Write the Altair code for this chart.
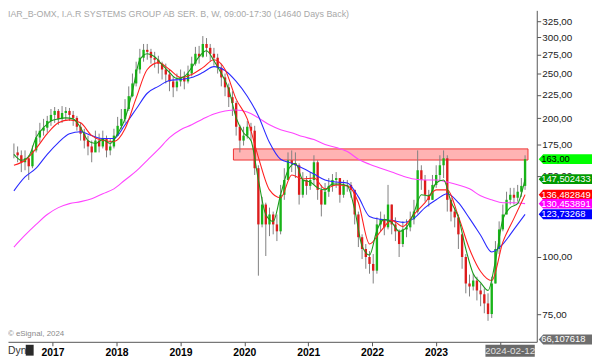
import altair as alt
import pandas as pd

TITLE = "IAR_B-OMX, I.A.R SYSTEMS GROUP AB SER. B, W, 09:00-17:30 (14640 Days Back)"

# candle grid (decimal years, one candle every ~3 weeks)
T0 = 2016.3944
STEP = 0.05797

close = [168.6,166.2,160.5,163.7,157.3,170.3,181.6,188.0,190.8,197.4,203.4,207.5,199.4,205.4,207.5,203.4,200.4,191.7,185.2,178.9,
         173.7,168.6,178.9,173.7,180.7,170.3,173.7,183.4,192.6,199.4,209.5,223.4,238.1,255.3,270.8,281.7,278.9,270.8,268.1,262.9,
         255.3,249.0,240.5,233.5,240.5,245.4,240.5,250.2,262.9,276.2,272.2,290.1,284.5,276.2,270.8,257.7,245.4,233.5,222.3,215.8,
         191.7,178.9,183.4,191.7,188.0,155.8,117.6,129.9,117.6,123.6,117.6,113.6,136.4,146.9,162.1,159.7,158.1,136.4,146.9,142.6,
         146.9,160.5,139.8,129.9,138.5,142.6,146.9,148.3,136.4,142.6,143.3,139.8,123.6,110.3,104.0,99.9,96.5,93.3,117.6,120.6,
         115.9,129.9,117.6,113.6,106.6,114.7,115.9,120.6,125.4,154.2,146.9,136.4,133.0,143.3,150.6,158.1,163.7,133.0,125.4,121.8,
         111.9,99.9,87.5,86.2,88.8,84.5,82.9,79.2,75.1,87.5,104.0,114.7,123.6,133.0,136.4,134.4,138.5,142.6,163.0]
high = [176.3,173.7,170.3,170.3,166.2,174.5,188.0,195.5,199.4,202.4,209.5,211.6,209.5,212.6,211.6,210.6,207.5,202.4,195.5,189.8,
        183.4,178.9,188.0,185.2,188.0,183.4,180.7,189.8,201.4,209.5,220.1,234.6,250.2,265.5,283.1,290.1,290.1,283.1,278.9,273.5,
        265.5,262.9,255.3,246.6,250.2,255.3,252.7,260.3,272.2,285.9,287.3,301.8,298.8,290.1,284.5,276.2,262.9,250.2,238.1,229.0,
        217.9,193.6,191.7,197.4,195.5,192.6,158.1,135.0,131.1,127.9,125.4,123.6,143.3,155.8,168.6,170.3,168.6,159.7,152.8,149.8,
        152.8,166.2,162.1,143.3,144.7,148.3,151.3,152.8,148.3,146.9,146.9,145.4,139.8,125.4,111.9,106.6,102.9,101.4,121.8,125.4,
        123.6,143.3,129.9,121.8,114.7,119.4,120.6,125.4,133.0,170.3,158.1,150.6,139.8,150.6,158.1,166.2,170.3,166.2,134.4,127.9,
        123.6,111.9,101.4,91.5,91.9,90.5,87.5,85.4,83.3,90.5,108.2,119.4,129.9,138.5,141.2,141.2,143.3,148.3,166.2]
low = [163.7,160.5,152.8,154.2,146.9,155.8,168.6,177.1,183.4,186.1,192.6,195.5,193.6,195.5,197.4,197.4,192.6,188.0,178.9,172.0,
       166.2,160.5,170.3,168.6,172.0,164.5,166.2,172.0,183.4,189.8,195.5,207.5,222.3,234.6,250.2,265.5,268.1,262.9,257.7,250.2,
       242.9,238.1,229.0,222.3,229.0,234.6,231.2,238.1,246.6,260.3,262.9,270.8,272.2,265.5,260.3,250.2,234.6,223.4,211.6,202.4,
       183.4,168.6,174.5,180.7,178.9,150.6,91.0,115.9,100.4,110.9,111.9,108.2,111.9,133.0,146.9,152.8,148.3,129.9,134.4,136.4,
       139.8,143.3,133.0,122.4,129.9,135.0,138.5,141.2,131.1,134.4,138.5,134.4,117.6,105.0,98.9,94.2,91.9,87.5,91.9,113.6,
       111.4,114.7,111.9,108.2,99.9,105.0,110.3,113.6,117.6,124.2,139.8,131.8,128.6,133.0,141.2,146.9,148.3,125.4,119.4,115.9,
       104.0,94.2,83.3,82.0,84.5,80.4,78.1,75.4,72.6,73.6,87.5,101.4,113.6,123.6,129.9,129.9,131.8,135.0,139.8]

# moving averages, sampled every 3rd candle (red, blue, magenta) and every 2nd (green)
ma_red = [158.1,162.1,172.0,185.2,195.5,198.4,195.5,183.4,178.9,178.0,189.8,221.2,255.3,264.2,255.3,245.4,249.0,257.7,268.1,255.3,
          220.1,199.4,164.5,139.8,134.4,150.6,147.6,148.3,140.5,143.3,142.6,131.1,106.6,113.6,120.0,116.4,123.6,131.1,139.8,139.8,
          122.4,104.0,92.9,88.8,107.6,121.2,136.5]
ma_blue = [139.1,149.1,155.8,167.0,177.1,185.2,187.0,183.4,180.7,180.7,193.6,209.5,226.7,234.6,241.7,242.9,245.4,251.5,259.0,254.0,
           240.5,223.4,202.4,177.1,162.9,159.7,155.8,151.3,146.9,145.4,144.7,135.0,122.4,120.6,120.0,118.8,121.2,127.9,133.0,137.1,
           131.1,121.2,111.4,102.4,106.6,114.7,123.7]
ma_magenta = [105.0,111.4,117.6,123.6,127.9,130.5,131.8,133.7,137.1,140.5,146.9,153.5,162.1,171.1,181.6,188.9,193.6,199.4,204.4,207.5,
              208.5,206.5,200.4,193.6,188.9,186.1,182.5,179.8,175.4,172.8,169.4,162.9,158.9,155.8,152.8,149.8,147.6,146.9,146.9,145.4,
              143.3,140.5,135.7,133.0,131.1,131.1,130.5]
ma_green = [167.0,162.1,165.4,181.6,190.8,197.4,199.4,200.4,199.4,190.8,178.9,176.3,179.8,176.3,185.2,199.4,229.0,268.1,276.2,272.2,
            261.6,251.5,244.1,246.6,257.7,272.2,280.3,266.8,250.2,231.2,200.4,186.1,178.9,146.9,123.6,119.4,136.4,154.2,159.7,146.9,
            145.4,141.2,139.8,144.0,144.0,142.6,126.7,105.5,100.9,114.2,120.6,118.8,113.6,115.9,124.8,136.4,135.7,144.7,146.9,131.8,
            121.8,104.0,91.9,87.9,84.5,98.0,120.6,127.9,130.5,147.5]

zone_low, zone_high = 162.3, 171.6
zone_start, zone_end = 2019.83, 2024.44

last_labels = ["163,00", "147,502433", "136,482849", "130,453891", "123,73268", "66,107618"]
last_values = [163.0, 147.502433, 136.482849, 130.453891, 123.73268, 66.107618]
last_fills = ["#00ff00", "#009a00", "#ff0000", "#ff00ff", "#0000ff", "#6e6e6e"]
last_text = ["#000000", "#ffffff", "#ffffff", "#ffffff", "#ffffff", "#ffffff"]

year_ticks = [2017, 2018, 2019, 2020, 2021, 2022, 2023, 2024]
price_ticks = [75, 100, 150, 175, 200, 225, 250, 275, 300, 325]

# ---------------------------------------------------------------
n = len(close)
tgrid = [T0 + STEP * i for i in range(n)]
candles = pd.DataFrame({"t": tgrid, "close": close, "high": high, "low": low})

def ma_frame(vals, every):
    return pd.DataFrame({"t": [tgrid[i * every] for i in range(len(vals))], "v": vals})

xs = alt.Scale(domain=[2016.379, 2024.5], nice=False, zero=False)
ys = alt.Scale(type="log", domain=[65.35, 343.2], nice=False)

X = alt.X("t:Q", scale=xs, axis=alt.Axis(
    values=year_ticks, labelExpr="datum.value == 2024 ? '' : toString(datum.value)",
    title=None, grid=False, labelFontWeight="bold", labelFontSize=10.5, labelColor="#000000",
    labelFont="Arial", tickColor="#555555", domainColor="#555555", tickSize=4, labelPadding=2,
    zindex=0))
Y = alt.Y("low:Q", scale=ys, axis=alt.Axis(
    orient="right", values=price_ticks, labelExpr="replace(format(datum.value, '.2f'), '.', ',')",
    title=None, grid=False, labelFontSize=10, labelColor="#222222", labelFont="Arial",
    tickColor="#555555", domainColor="#555555", tickSize=4, labelPadding=1, zindex=0))

base = alt.Chart(candles).transform_window(
    prev="lag(close)", frame=[None, None]
).transform_calculate(
    open="datum.prev == null ? datum.close : datum.prev"
)

zone = alt.Chart(pd.DataFrame({"a": [zone_start], "b": [zone_end], "lo": [zone_low], "hi": [zone_high]})).mark_rect(
    fill="#ffb3b3", stroke="#ee3333", strokeWidth=1
).encode(x=alt.X("a:Q", scale=xs), x2="b:Q", y=alt.Y("lo:Q", scale=ys), y2="hi:Q")

wicks = base.mark_rule(color="#808080", strokeWidth=1).encode(x=X, y=Y, y2="high:Q")
bodies = base.mark_bar(size=2.4).encode(
    x="t:Q", y=alt.Y("open:Q", scale=ys), y2="close:Q",
    color=alt.condition("datum.close >= datum.open", alt.value("#18b418"), alt.value("#dd1c1c")))

def ma_line(vals, every, color):
    return alt.Chart(ma_frame(vals, every)).mark_line(
        color=color, strokeWidth=1.1, interpolate="monotone"
    ).encode(x=alt.X("t:Q", scale=xs), y=alt.Y("v:Q", scale=ys))

l_mag = ma_line(ma_magenta, 3, "#ff44ff")
l_blue = ma_line(ma_blue, 3, "#2a2aff")
l_red = ma_line(ma_red, 3, "#ff2020")
l_green = ma_line(ma_green, 2, "#1a9a1a")

lab_df = pd.DataFrame({"v": last_values, "label": last_labels, "fill": last_fills, "tc": last_text})
ARROW = "M0,0 L0.9,-1 L11,-1 L11,1 L0.9,1 Z"
boxes = alt.Chart(lab_df).mark_point(shape=ARROW, size=100, filled=True, opacity=1, strokeWidth=0).encode(
    x=alt.value(538), y=alt.Y("v:Q", scale=ys), color=alt.Color("fill:N", scale=None))
box_txt = alt.Chart(lab_df).mark_text(align="left", baseline="middle", fontSize=9.5, font="Arial").encode(
    x=alt.value(540.5), y=alt.Y("v:Q", scale=ys), text="label:N", color=alt.Color("tc:N", scale=None))

one = pd.DataFrame({"a": [0]})
title = alt.Chart(one).mark_text(text=TITLE, align="left", baseline="top", fontSize=9, font="Arial",
                                 color="#a8a8a8").encode(x=alt.value(0), y=alt.value(0))
credit = alt.Chart(one).mark_text(text="© eSignal, 2024", align="left", baseline="middle", fontSize=8,
                                  font="Arial", color="#8a8a8a").encode(x=alt.value(0), y=alt.value(328))
dyn = alt.Chart(one).mark_text(text="Dyn", align="left", baseline="middle", fontSize=10.5,
                               font="Arial", color="#333333").encode(x=alt.value(0), y=alt.value(345))
lock = alt.Chart(one).mark_rect(color="#2a2a2a").encode(
    x=alt.value(18), x2=alt.value(26), y=alt.value(339), y2=alt.value(350))
date_box = alt.Chart(one).mark_rect(color="#6a6a6a").encode(
    x=alt.value(484), x2=alt.value(534), y=alt.value(339), y2=alt.value(351))
date_txt = alt.Chart(one).mark_text(text="2024-02-12", align="center", baseline="middle", fontSize=10,
                                    font="Arial", color="#e0e0e0").encode(x=alt.value(509), y=alt.value(345))

chart = alt.layer(
    zone, wicks, bodies, l_mag, l_blue, l_red, l_green, boxes, box_txt,
    title, credit, dyn, lock, date_box, date_txt
).properties(
    width=536, height=336,
    padding={"left": 0, "top": 0, "right": 56, "bottom": 15},
    autosize=alt.AutoSizeParams(type="none"),
    background="white",
).configure_view(stroke=None)

chart.save("out.html", embed_options={"renderer": "svg", "actions": False})
